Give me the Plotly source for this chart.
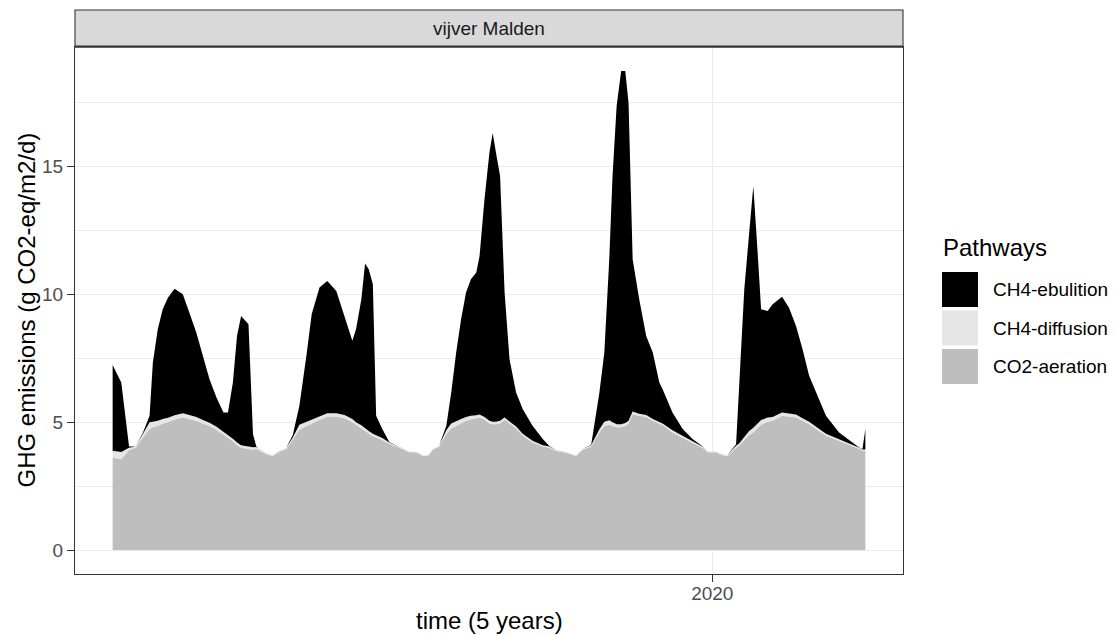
import pandas as pd
import plotly.graph_objects as go

# ---- data (days since 2016-01-01, emissions in g CO2-eq/m2/d) ----
day = [0, 21, 40, 56, 74, 90, 98, 110, 122, 135, 151, 171, 187, 204, 220, 236, 253, 270, 281, 293,
       303, 313, 331, 342, 350, 358, 374, 390, 407, 423, 439, 455, 472, 485, 504, 523, 545, 565, 584, 593,
       606, 615, 624, 634, 642, 657, 674, 699, 723, 740, 756, 768, 780, 796, 813, 825, 837, 849, 861, 873,
       886, 894, 906, 918, 926, 934, 944, 955, 967, 983, 999, 1023, 1048, 1064, 1080, 1105, 1129, 1145, 1166, 1186,
       1198, 1210, 1218, 1228, 1239, 1249, 1257, 1267, 1283, 1300, 1316, 1332, 1340, 1364, 1389, 1413, 1442, 1450, 1470, 1486,
       1498, 1519, 1527, 1539, 1551, 1561, 1571, 1580, 1596, 1608, 1631, 1648, 1665, 1681, 1697, 1714, 1738, 1770, 1803, 1819,
       1827, 1834]

co2_aeration = [3.62, 3.55, 3.90, 4.00, 4.40, 4.73, 4.80, 4.85, 4.95, 5.00, 5.10, 5.18, 5.12, 5.05, 4.95, 4.85, 4.70, 4.50, 4.40, 4.25,
                4.10, 4.00, 3.95, 3.92, 3.95, 3.88, 3.75, 3.68, 3.85, 3.95, 4.30, 4.70, 4.85, 4.95, 5.10, 5.22, 5.22, 5.15, 5.00, 4.90,
                4.78, 4.65, 4.55, 4.45, 4.40, 4.30, 4.15, 4.00, 3.82, 3.82, 3.68, 3.68, 3.92, 4.05, 4.55, 4.75, 4.85, 4.95, 5.05, 5.10,
                5.15, 5.18, 5.10, 4.95, 4.92, 4.92, 4.95, 5.10, 4.95, 4.75, 4.47, 4.20, 4.05, 4.00, 3.88, 3.80, 3.68, 3.92, 4.05, 4.60,
                4.85, 4.90, 4.85, 4.80, 4.80, 4.85, 4.95, 5.30, 5.25, 5.20, 5.05, 4.92, 4.88, 4.60, 4.40, 4.20, 3.95, 3.82, 3.82, 3.71,
                3.68, 4.00, 4.10, 4.30, 4.50, 4.60, 4.75, 4.90, 5.02, 5.05, 5.25, 5.22, 5.18, 5.05, 4.92, 4.73, 4.47, 4.27, 4.07, 3.95,
                3.88, 3.88]

ch4_diffusion = [0.26, 0.28, 0.10, 0.05, 0.15, 0.27, 0.22, 0.20, 0.17, 0.17, 0.17, 0.17, 0.16, 0.15, 0.13, 0.13, 0.12, 0.12, 0.10, 0.10,
                 0.10, 0.10, 0.10, 0.10, 0.08, 0.07, 0.05, 0.04, 0.05, 0.05, 0.10, 0.20, 0.17, 0.15, 0.12, 0.13, 0.13, 0.13, 0.12, 0.10,
                 0.10, 0.10, 0.10, 0.10, 0.10, 0.08, 0.05, 0.03, 0.03, 0.03, 0.04, 0.04, 0.04, 0.05, 0.13, 0.20, 0.20, 0.17, 0.15, 0.15,
                 0.12, 0.12, 0.10, 0.10, 0.10, 0.10, 0.10, 0.08, 0.08, 0.08, 0.08, 0.07, 0.05, 0.05, 0.04, 0.04, 0.04, 0.04, 0.05, 0.12,
                 0.17, 0.17, 0.15, 0.12, 0.12, 0.12, 0.10, 0.12, 0.08, 0.08, 0.07, 0.08, 0.07, 0.08, 0.07, 0.07, 0.05, 0.04, 0.04, 0.04,
                 0.04, 0.08, 0.08, 0.12, 0.15, 0.18, 0.20, 0.18, 0.16, 0.15, 0.13, 0.13, 0.12, 0.10, 0.10, 0.09, 0.08, 0.06, 0.05, 0.05,
                 0.05, 0.05]

ch4_ebullition = [3.35, 2.72, 0.05, 0.00, 0.05, 0.25, 2.31, 3.58, 4.29, 4.70, 4.95, 4.65, 4.00, 3.30, 2.51, 1.70, 1.14, 0.76, 0.88, 2.20,
                  4.17, 5.05, 4.78, 0.51, 0.02, 0.00, 0.00, 0.00, 0.00, 0.00, 0.10, 0.74, 2.57, 4.12, 5.04, 5.17, 4.78, 3.87, 3.06, 3.63,
                  4.92, 6.45, 6.33, 5.84, 0.75, 0.35, 0.02, 0.00, 0.00, 0.00, 0.00, 0.00, 0.00, 0.00, 0.18, 1.21, 2.67, 3.90, 4.87, 5.34,
                  5.58, 6.20, 8.51, 10.48, 11.28, 10.51, 9.57, 4.89, 2.43, 1.33, 0.96, 0.59, 0.24, 0.02, 0.00, 0.00, 0.00, 0.00, 0.02, 1.44,
                  2.70, 6.30, 9.62, 12.44, 13.81, 13.76, 12.43, 5.95, 4.47, 3.09, 2.60, 1.55, 1.34, 0.70, 0.26, 0.07, 0.00, 0.00, 0.00, 0.00,
                  0.00, 0.06, 2.37, 5.78, 7.76, 9.45, 6.81, 4.33, 4.17, 4.41, 4.52, 4.12, 3.46, 2.70, 1.79, 1.34, 0.70, 0.27, 0.08, 0.01,
                  0.02, 0.80]

pathways = ["CH4-ebulition", "CH4-diffusion", "CO2-aeration"]
fill_colors = {"CH4-ebulition": "#000000", "CH4-diffusion": "#E5E5E5", "CO2-aeration": "#BEBEBE"}

strip_label = "vijver Malden"
x_title = "time (5 years)"
y_title = "GHG emissions (g CO2-eq/m2/d)"
y_ticks = [0, 5, 10, 15]
x_tick_dates = ["2020-01-01"]
x_tick_labels = ["2020"]

# ---- build ----
start = pd.Timestamp("2016-01-01")
dates = [start + pd.Timedelta(days=d) for d in day]

W, H = 1115, 635
L, R, T, B = 75, 212, 47, 61
PW, PH = W - L - R, H - T - B


def px_x(x):
    return (x - L) / PW


def px_y(y):
    return (H - B - y) / PH


fig = go.Figure()
series = {"CO2-aeration": co2_aeration, "CH4-diffusion": ch4_diffusion, "CH4-ebulition": ch4_ebullition}
for name in ["CO2-aeration", "CH4-diffusion", "CH4-ebulition"]:
    fig.add_trace(go.Scatter(
        x=dates, y=series[name], name=name, mode="lines",
        stackgroup="one", line=dict(width=0, color=fill_colors[name]),
        fillcolor=fill_colors[name], showlegend=False,
    ))

totals = [a + b + c for a, b, c in zip(co2_aeration, ch4_diffusion, ch4_ebullition)]
ymax = max(totals)
yr = [0 - 0.05 * ymax, ymax * 1.05]
span = pd.Timedelta(days=day[-1] - day[0])
xr = [dates[0] - 0.05 * span, dates[-1] + 0.05 * span]

font_family = "Liberation Sans, Arial, sans-serif"

fig.update_layout(
    width=W, height=H,
    margin=dict(l=L, r=R, t=T, b=B, pad=0),
    paper_bgcolor="white", plot_bgcolor="white",
    font=dict(family=font_family, size=19, color="#000000"),
    showlegend=False,
    xaxis=dict(
        type="date", range=xr, tickvals=x_tick_dates, ticktext=x_tick_labels,
        showgrid=True, gridcolor="#EBEBEB", gridwidth=1.2,
        ticks="outside", ticklen=7, tickwidth=1.1, tickcolor="#333333",
        tickfont=dict(size=19, color="#4D4D4D"), ticklabelstandoff=-5,
        showline=True, mirror=True, linecolor="#333333", linewidth=1.1,
        zeroline=False,
    ),
    yaxis=dict(
        range=yr, tickvals=y_ticks,
        showgrid=True, gridcolor="#EBEBEB", gridwidth=1.2,
        minor=dict(tickvals=[2.5, 7.5, 12.5, 17.5], showgrid=True, gridcolor="#EBEBEB", gridwidth=0.6, ticks=""),
        ticks="outside", ticklen=7, tickwidth=1.1, tickcolor="#333333",
        tickfont=dict(size=19, color="#4D4D4D"),
        showline=True, mirror=True, linecolor="#333333", linewidth=1.1,
        zeroline=False,
    ),
)

shapes = []
annotations = []

# facet strip
shapes.append(dict(type="rect", xref="paper", yref="paper",
                   x0=0, x1=1, y0=1, y1=px_y(10),
                   fillcolor="#D9D9D9", line=dict(color="#333333", width=1.1), layer="above"))
shapes.append(dict(type="line", xref="paper", yref="paper",
                   x0=0, x1=1, y0=px_y(46.5), y1=px_y(46.5),
                   line=dict(color="#333333", width=2.2), layer="above"))
annotations.append(dict(text=strip_label, xref="paper", yref="paper", x=0.5, y=px_y(28.5),
                        xanchor="center", yanchor="middle", showarrow=False,
                        font=dict(size=19, color="#1A1A1A")))

# axis titles
annotations.append(dict(text=x_title, xref="paper", yref="paper", x=0.5, y=px_y(620),
                        xanchor="center", yanchor="middle", showarrow=False,
                        font=dict(size=24, color="#000000")))
annotations.append(dict(text=y_title, xref="paper", yref="paper", x=px_x(26), y=px_y(310.5),
                        xanchor="center", yanchor="middle", showarrow=False, textangle=-90,
                        font=dict(size=24, color="#000000")))

# legend (drawn manually to match ggplot key size)
annotations.append(dict(text="Pathways", xref="paper", yref="paper", x=px_x(941), y=px_y(247),
                        xanchor="left", yanchor="middle", showarrow=False,
                        font=dict(size=24, color="#000000")))
key_top = 272
key_h = 35
key_gap = 3.5
for i, name in enumerate(pathways):
    y0 = key_top + i * (key_h + key_gap)
    shapes.append(dict(type="rect", xref="paper", yref="paper",
                       x0=px_x(942), x1=px_x(978), y0=px_y(y0), y1=px_y(y0 + key_h),
                       fillcolor=fill_colors[name], line=dict(width=0)))
    annotations.append(dict(text=name, xref="paper", yref="paper", x=px_x(991), y=px_y(y0 + key_h / 2),
                            xanchor="left", yanchor="middle", showarrow=False,
                            font=dict(size=19, color="#000000")))

fig.update_layout(shapes=shapes, annotations=annotations)
fig.write_html("out.html")
